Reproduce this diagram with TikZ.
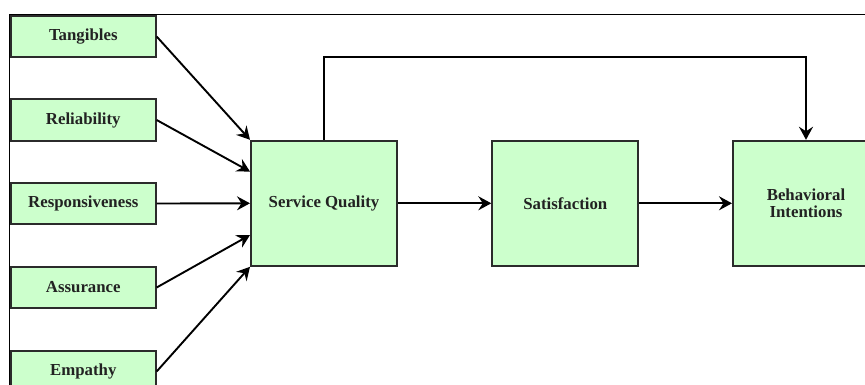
\documentclass[tikz,border=0pt]{standalone}
\usepackage{fontspec}
\setmainfont{Liberation Serif}
\usetikzlibrary{arrows.meta,calc}

\definecolor{boxfill}{HTML}{CCFFCC}
\definecolor{boxline}{HTML}{2B2B2B}
\definecolor{labeltext}{HTML}{222222}

\tikzset{
  factor/.style={draw=boxline, line width=2pt, fill=boxfill,
    minimum width=144.7pt, minimum height=41.6pt, inner sep=0pt,
    text=labeltext, font=\bfseries\fontsize{16.8}{17.5}\selectfont},
  construct/.style={factor, minimum width=146pt, minimum height=125pt,
    align=center},
  link/.style={draw=black, line width=1.9pt,
    -{Stealth[length=13pt,width=14pt,inset=4.5pt]}},
  frame/.style={draw=black, line width=1.3pt}
}

\begin{document}
\begin{tikzpicture}[x=1pt,y=-1pt]
  \useasboundingbox (0,0) rectangle (865,385);

  % outer frame of the figure
  \draw[frame] (9.3,400) -- (9.3,14.7) -- (880,14.7);

  % SERVQUAL dimensions
  \node[factor] (tang)  at (83.3,36.5)  {Tangibles};
  \node[factor] (rel)   at (83.3,120)   {Reliability};
  \node[factor] (resp)  at (83.3,203.5) {Responsiveness};
  \node[factor] (assur) at (83.3,287.5) {Assurance};
  \node[factor] (emp)   at (83.3,371.5) {Empathy};

  % main constructs
  \node[construct] (sq)  at (324,203.3)   {Service Quality};
  \node[construct] (sat) at (565.3,203.3) {Satisfaction};
  \node[construct] (bi)  at (806,203.3)   {Behavioral\\Intentions};

  % dimensions -> service quality
  \draw[link] (tang.east)  -- (sq.north west);
  \draw[link] (rel.east)   -- ($(sq.north west)!0.25!(sq.south west)$);
  \draw[link] (resp.east)  -- (sq.west);
  \draw[link] (assur.east) -- ($(sq.north west)!0.75!(sq.south west)$);
  \draw[link] (emp.east)   -- (sq.south west);

  % structural paths
  \draw[link] (sq.east)  -- (sat.west);
  \draw[link] (sat.east) -- (bi.west);

  % direct path over the top
  \coordinate (over) at (0,56.7);
  \draw[link] (sq.north) -- (sq.north |- over) -| (bi.north);
\end{tikzpicture}
\end{document}
